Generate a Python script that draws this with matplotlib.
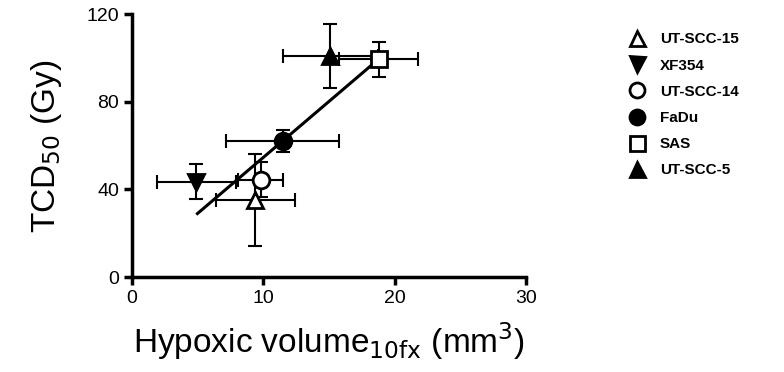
import matplotlib.pyplot as plt

# cell lines, hypoxic volume (mm3) and TCD50 (Gy)
cell_lines = ['UT-SCC-15', 'XF354', 'UT-SCC-14', 'FaDu', 'SAS', 'UT-SCC-5']
hv = [9.4, 4.9, 9.8, 11.5, 18.8, 15.1]
hv_err = [3.0, 3.0, 1.7, 4.3, 3.0, 3.6]
tcd = [35, 43.5, 44.5, 62, 99.5, 101]
tcd_err = [21, 8, 8, 5, 8, 14.5]
markers = ['^', 'v', 'o', 'o', 's', '^']
filled = [False, True, False, True, False, True]

# regression line ends
fit_x = [5.0, 18.3]
fit_y = [29, 97]

plt.rcParams['font.family'] = ['Liberation Sans', 'DejaVu Sans']

fig = plt.figure(figsize=(7.84, 3.72), dpi=100)
ax = fig.add_axes([0.168, 0.255, 0.503, 0.707])

ax.plot(fit_x, fit_y, color='black', lw=2.2, zorder=2)

handles = []
for i in range(len(cell_lines)):
    ax.errorbar(hv[i], tcd[i], xerr=hv_err[i], yerr=tcd_err[i], fmt='none',
                ecolor='black', elinewidth=1.5, capsize=5, capthick=1.5, zorder=3)
    h, = ax.plot(hv[i], tcd[i], marker=markers[i], ls='none', markersize=12,
                 markerfacecolor='black' if filled[i] else 'white',
                 markeredgecolor='black', markeredgewidth=2, zorder=4,
                 label=cell_lines[i])
    handles.append(h)

ax.set_xlim(0, 30)
ax.set_ylim(0, 120)
ax.set_xticks([0, 10, 20, 30])
ax.set_yticks([0, 40, 80, 120])
ax.spines['top'].set_visible(False)
ax.spines['right'].set_visible(False)
ax.spines['left'].set_linewidth(2.5)
ax.spines['bottom'].set_linewidth(2.5)
ax.tick_params(width=2.5, length=6, labelsize=14, pad=3)
ax.set_xlabel(r'Hypoxic volume$_{\mathrm{10fx}}$ (mm$^3$)', fontsize=24, labelpad=10)
ax.set_ylabel(r'TCD$_{\mathrm{50}}$ (Gy)', fontsize=24, labelpad=16)

fig.legend(handles=handles, loc='upper left', bbox_to_anchor=(0.783, 0.95),
           frameon=False, prop={'size': 11, 'weight': 'bold'}, markerscale=0.9,
           handlelength=1.2, handletextpad=0.9, labelspacing=0.8)

fig.savefig('out.png', dpi=100)
